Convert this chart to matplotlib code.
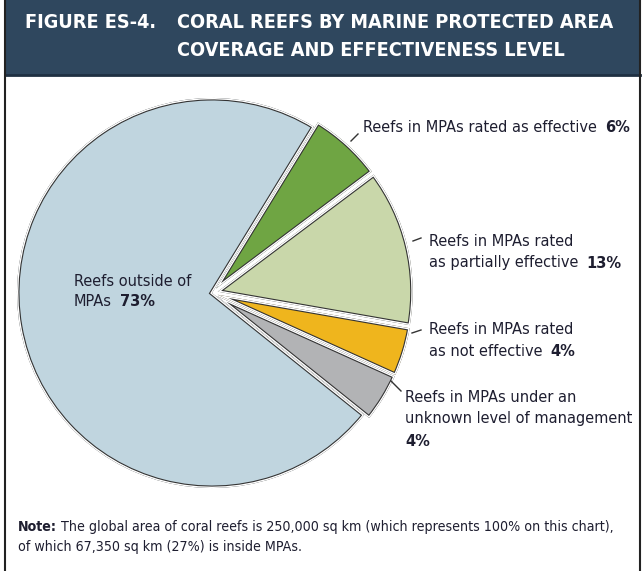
import matplotlib
matplotlib.use('Agg')
import matplotlib.pyplot as plt
from matplotlib.patches import Rectangle
from matplotlib.lines import Line2D

# размеры картинки в пикселях
W, H = 644, 571

# данные
shares = [6, 13, 4, 4, 73]
slice_colors = ['#6fa543', '#c9d7aa', '#efb51d', '#b2b3b5', '#c0d5df']
explode = [0.03, 0.03, 0.03, 0.03, 0]

title_num = 'FIGURE ES-4.'
title_lines = ['CORAL REEFS BY MARINE PROTECTED AREA',
               'COVERAGE AND EFFECTIVENESS LEVEL']

label_lines = [['Reefs in MPAs rated as effective'],
               ['Reefs in MPAs rated', 'as partially effective'],
               ['Reefs in MPAs rated', 'as not effective'],
               ['Reefs in MPAs under an', 'unknown level of management'],
               ['Reefs outside of', 'MPAs']]
label_pcts = ['6%', '13%', '4%', '4%', '73%']

note_bold = 'Note:'
note_lines = [' The global area of coral reefs is 250,000 sq km (which represents 100% on this chart),',
              'of which 67,350 sq km (27%) is inside MPAs.']

plt.rcParams['font.family'] = ['DejaVu Sans']
plt.rcParams['font.stretch'] = 'condensed'
TXT = '#1e1e30'
DARK = '#333333'


def px(x, y):
    return x / W, 1 - y / H


fig = plt.figure(figsize=(W / 100, H / 100), dpi=100)
fig.patch.set_facecolor('white')

# шапка
fig.patches.append(Rectangle(px(5, 76), 636 / W, 76 / H, transform=fig.transFigure,
                             facecolor='#2f475e', edgecolor='none', zorder=0))
fig.lines.append(Line2D([5 / W, 640 / W], [1 - 75 / H, 1 - 75 / H], transform=fig.transFigure,
                        color='#1f3042', lw=2))
fig.lines.append(Line2D([5 / W, 5 / W], [0, 1], transform=fig.transFigure, color='#222', lw=1.5))
fig.lines.append(Line2D([640 / W, 640 / W], [0, 1], transform=fig.transFigure, color='#222', lw=1.5))

fig.text(*px(25, 22), title_num, color='white', fontsize=14.2, fontweight='bold', va='center')
fig.text(*px(177, 22), title_lines[0], color='white', fontsize=14.2, fontweight='bold', va='center')
fig.text(*px(177, 50), title_lines[1], color='white', fontsize=14.2, fontweight='bold', va='center')

# круговая диаграмма
R = 195
cx, cy = 212, 293
lim = 1.15
side = 2 * lim * R
ax = fig.add_axes([(cx - side / 2) / W, (H - cy - side / 2) / H, side / W, side / H])
wedges, _ = ax.pie(shares, colors=slice_colors, explode=explode, startangle=58.5,
                   counterclock=False, wedgeprops=dict(edgecolor=DARK, linewidth=3.6))
for w in wedges:
    w.set_clip_on(True)
    w.set_clip_path(w)
# белый зазор по краю каждого сектора
rims, _ = ax.pie(shares, explode=explode, startangle=58.5, counterclock=False,
                 wedgeprops=dict(facecolor='none', edgecolor='white', linewidth=2.0))
for r, w in zip(rims, wedges):
    r.set_clip_on(True)
    r.set_clip_path(w)
ax.set_xlim(-lim, lim)
ax.set_ylim(-lim, lim)
ax.set_aspect('equal')
ax.axis('off')

fig.canvas.draw()
renderer = fig.canvas.get_renderer()


def label(x, y, lines, pct, step=22, size=11.7, own_line=False):
    t = None
    for i, s in enumerate(lines):
        t = fig.text(*px(x, y + i * step), s, fontsize=size, color=TXT, va='center')
    if own_line:
        fig.text(*px(x, y + len(lines) * step), pct, fontsize=size, color=TXT,
                 va='center', fontweight='bold')
    else:
        bb = t.get_window_extent(renderer)
        fig.text((bb.x1 + 8) / W, 1 - (y + (len(lines) - 1) * step) / H, pct,
                 fontsize=size, color=TXT, va='center', fontweight='bold')


label(363, 128, label_lines[0], label_pcts[0])
label(429, 241, label_lines[1], label_pcts[1])
label(429, 330, label_lines[2], label_pcts[2])
label(405, 397, label_lines[3], label_pcts[3], own_line=True)
label(74, 281, label_lines[4], label_pcts[4], step=21)

# выноски
for (x0, y0), (x1, y1) in [((351, 141), (358, 134)), ((413, 241), (421, 238)),
                           ((412, 333), (421, 330)), ((391, 381), (401, 391))]:
    fig.lines.append(Line2D([x0 / W, x1 / W], [1 - y0 / H, 1 - y1 / H],
                            transform=fig.transFigure, color='#333', lw=1))

# примечание
nb = fig.text(*px(18, 527), note_bold, fontsize=10.2, color=TXT, va='center', fontweight='bold')
bb = nb.get_window_extent(renderer)
fig.text(bb.x1 / W, 1 - 527 / H, note_lines[0], fontsize=10.2, color=TXT, va='center')
fig.text(*px(18, 547), note_lines[1], fontsize=10.2, color=TXT, va='center')

fig.savefig('out.png', dpi=100)
